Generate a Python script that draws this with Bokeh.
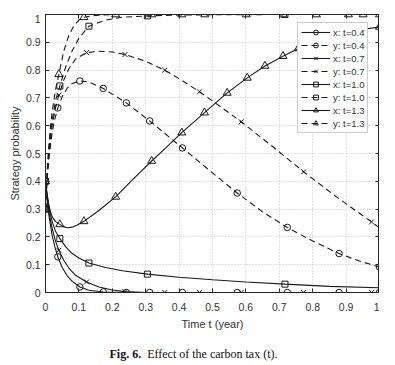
from bokeh.plotting import figure
from bokeh.models import Range1d, LinearAxis, Legend, LegendItem, FixedTicker, Div, Spacer
from bokeh.layouts import column, row
from bokeh.embed import file_html
from bokeh.resources import INLINE

# ---------------- data ----------------
ticks = [0, 0.1, 0.2, 0.3, 0.4, 0.5, 0.6, 0.7, 0.8, 0.9, 1]
tick_labels = ["0", "0.1", "0.2", "0.3", "0.4", "0.5", "0.6", "0.7", "0.8", "0.9", "1"]

# x: t=0.4 (solid, circle)
x04_t = [0, 0.005, 0.01, 0.015, 0.02, 0.028, 0.037, 0.05, 0.065, 0.08, 0.103, 0.13, 0.173, 0.242, 1.0]
x04_v = [0.4, 0.33, 0.28, 0.24, 0.205, 0.165, 0.128, 0.09, 0.06, 0.04, 0.02, 0.008, 0.002, 0.0, 0.0]
# y: t=0.4 (dashed, circle)
y04_t = [0, 0.005, 0.01, 0.015, 0.02, 0.027, 0.037, 0.05, 0.065, 0.08, 0.103, 0.13, 0.173, 0.242,
         0.312, 0.41, 0.49, 0.574, 0.65, 0.724, 0.8, 0.879, 0.94, 1.0]
y04_v = [0.3, 0.41, 0.48, 0.53, 0.575, 0.62, 0.664, 0.705, 0.735, 0.752, 0.761, 0.757, 0.734, 0.682,
         0.617, 0.52, 0.44, 0.358, 0.29, 0.234, 0.185, 0.14, 0.113, 0.092]
m04_t = [0, 0.037, 0.103, 0.173, 0.242, 0.312, 0.41, 0.574, 0.724, 0.879, 1.0]
m04_x = [0.4, 0.128, 0.02, 0.002, 0, 0, 0, 0, 0, 0, 0]
m04_y = [0.3, 0.664, 0.761, 0.734, 0.682, 0.617, 0.52, 0.358, 0.234, 0.14, 0.092]

# x: t=0.7 (solid, x)
x07_t = [0, 0.005, 0.01, 0.015, 0.02, 0.03, 0.04, 0.055, 0.07, 0.09, 0.123, 0.16, 0.2, 0.238, 0.3, 1.0]
x07_v = [0.4, 0.34, 0.295, 0.26, 0.23, 0.185, 0.152, 0.115, 0.088, 0.062, 0.038, 0.02, 0.009, 0.003, 0.0, 0.0]
# y: t=0.7 (dashed, x)
y07_t = [0, 0.005, 0.01, 0.015, 0.02, 0.03, 0.04, 0.055, 0.07, 0.09, 0.123, 0.16, 0.2, 0.238, 0.3,
         0.357, 0.41, 0.461, 0.52, 0.586, 0.68, 0.773, 0.87, 0.976, 1.0]
y07_v = [0.3, 0.42, 0.49, 0.55, 0.6, 0.665, 0.71, 0.765, 0.805, 0.84, 0.863, 0.868, 0.865, 0.856, 0.832,
         0.80, 0.762, 0.722, 0.672, 0.614, 0.525, 0.434, 0.345, 0.254, 0.232]
m07_t = [0, 0.04, 0.123, 0.238, 0.357, 0.461, 0.586, 0.773, 0.976]
m07_x = [0.4, 0.152, 0.038, 0.003, 0, 0, 0, 0, 0]
m07_y = [0.3, 0.71, 0.863, 0.856, 0.80, 0.722, 0.614, 0.434, 0.254]

# x: t=1.0 (solid, square)
x10_t = [0, 0.005, 0.01, 0.015, 0.02, 0.03, 0.043, 0.06, 0.08, 0.1, 0.13, 0.18, 0.23, 0.305, 0.4, 0.5,
         0.6, 0.717, 0.85, 1.0]
x10_v = [0.4, 0.35, 0.31, 0.28, 0.255, 0.22, 0.194, 0.165, 0.14, 0.124, 0.106, 0.09, 0.078, 0.066, 0.055,
         0.046, 0.038, 0.030, 0.022, 0.017]
# y: t=1.0 (dashed, square)
y10_t = [0, 0.005, 0.01, 0.015, 0.02, 0.03, 0.043, 0.06, 0.08, 0.1, 0.13, 0.18, 0.23, 0.305, 0.4, 0.5, 0.717, 1.0]
y10_v = [0.3, 0.43, 0.51, 0.57, 0.62, 0.69, 0.743, 0.81, 0.87, 0.915, 0.958, 0.98, 0.99, 0.995, 0.998,
         0.999, 1.0, 1.0]
m10_t = [0, 0.043, 0.13, 0.305, 0.717]
m10_x = [0.4, 0.194, 0.106, 0.066, 0.030]
m10_y = [0.3, 0.743, 0.958, 0.995, 1.0]

# x: t=1.3 (solid, triangle)
x13_t = [0, 0.005, 0.01, 0.015, 0.02, 0.03, 0.043, 0.055, 0.065, 0.08, 0.095, 0.115, 0.16, 0.21, 0.26,
         0.318, 0.36, 0.408, 0.476, 0.544, 0.604, 0.657, 0.711, 0.757, 0.81, 0.86, 0.907, 0.951, 1.0]
x13_v = [0.4, 0.35, 0.315, 0.29, 0.272, 0.255, 0.245, 0.236, 0.233, 0.235, 0.243, 0.256, 0.295, 0.344,
         0.405, 0.473, 0.52, 0.575, 0.647, 0.718, 0.772, 0.815, 0.85, 0.878, 0.903, 0.922, 0.937, 0.947, 0.955]
m13x_t = [0, 0.043, 0.115, 0.21, 0.318, 0.408, 0.476, 0.544, 0.604, 0.657, 0.711, 0.757, 0.81, 0.86,
          0.907, 0.951, 1.0]
m13x_v = [0.4, 0.245, 0.256, 0.344, 0.473, 0.575, 0.647, 0.718, 0.772, 0.815, 0.85, 0.878, 0.903, 0.922,
          0.937, 0.947, 0.955]
# y: t=1.3 (dashed, triangle)
y13_t = [0, 0.005, 0.01, 0.015, 0.02, 0.03, 0.04, 0.055, 0.07, 0.085, 0.1, 0.115, 0.15, 0.21, 1.0]
y13_v = [0.3, 0.44, 0.53, 0.6, 0.65, 0.73, 0.785, 0.87, 0.925, 0.96, 0.98, 0.99, 0.997, 1.0, 1.0]
m13y_t = [0, 0.04, 0.115, 0.21, 0.318, 0.408, 0.477, 0.601, 0.712, 0.811, 0.907, 0.951, 1.0]
m13y_v = [0.3, 0.785, 0.99, 1, 1, 1, 1, 1, 1, 1, 1, 1, 1]

legend_labels = ["x: t=0.4", "y: t=0.4", "x: t=0.7", "y: t=0.7",
                 "x: t=1.0", "y: t=1.0", "x: t=1.3", "y: t=1.3"]
caption_bold = "Fig. 6."
caption_text = "Effect of the carbon tax (t)."

# ---------------- figure ----------------
INK = "#1a1a1a"
AX = "#262626"
FONT = "Liberation Sans"

p = figure(frame_width=334, frame_height=278, output_backend="svg", toolbar_location=None,
           x_range=Range1d(0, 1), y_range=Range1d(0, 1),
           min_border_left=0, min_border_right=0, min_border_top=0, min_border_bottom=0,
           background_fill_color="white", border_fill_color="white")
p.outline_line_color = AX
p.outline_line_width = 1

for ax in (p.xaxis[0], p.yaxis[0]):
    ax.ticker = FixedTicker(ticks=ticks)
    ax.major_label_overrides = {t: l for t, l in zip(ticks, tick_labels)}
    ax.major_tick_in = 4
    ax.major_tick_out = 0
    ax.minor_tick_in = 0
    ax.minor_tick_out = 0
    ax.axis_line_color = AX
    ax.major_tick_line_color = AX
    ax.major_label_text_font = FONT
    ax.major_label_text_font_size = "10.5px"
    ax.major_label_text_color = "#333333"
    ax.axis_label_text_font = FONT
    ax.axis_label_text_font_size = "11px"
    ax.axis_label_text_font_style = "normal"
    ax.axis_label_text_color = "#333333"

p.xaxis.axis_label = "Time t (year)"
p.yaxis.axis_label = "Strategy probability"
p.xaxis.major_label_standoff = 10
p.xaxis.axis_label_standoff = 4
p.yaxis.major_label_standoff = 5
p.yaxis.axis_label_standoff = 2

for loc in ("right", "above"):
    a = LinearAxis(ticker=FixedTicker(ticks=ticks), major_tick_in=4, major_tick_out=0,
                   minor_tick_in=0, minor_tick_out=0, axis_line_color=AX,
                   major_tick_line_color=AX,
                   major_label_overrides={t: "" for t in ticks},
                   major_label_standoff=0)
    p.add_layout(a, loc)

p.xgrid.ticker = FixedTicker(ticks=ticks)
p.ygrid.ticker = FixedTicker(ticks=ticks)
p.grid.grid_line_color = "#c4c4c4"
p.grid.grid_line_dash = "1 2"
p.grid.grid_line_width = 1

DASH = "6 4"
LW = 1.1

series = [
    (x04_t, x04_v, m04_t, m04_x, "circle", "solid", 6.5),
    (y04_t, y04_v, m04_t, m04_y, "circle", DASH, 6.5),
    (x07_t, x07_v, m07_t, m07_x, "x", "solid", 7),
    (y07_t, y07_v, m07_t, m07_y, "x", DASH, 7),
    (x10_t, x10_v, m10_t, m10_x, "square", "solid", 6),
    (y10_t, y10_v, m10_t, m10_y, "square", DASH, 6),
    (x13_t, x13_v, m13x_t, m13x_v, "triangle", "solid", 8),
    (y13_t, y13_v, m13y_t, m13y_v, "triangle", DASH, 8),
]

items = []
for (ct, cv, mt, mv, mk, dash, sz), lab in zip(series, legend_labels):
    lr = p.line(ct, cv, line_color=INK, line_width=LW, line_dash=dash)
    sr = p.scatter(mt, mv, marker=mk, size=sz, line_color=INK, fill_color=None, line_width=1)
    items.append(LegendItem(label=lab, renderers=[lr, sr]))

legend = Legend(items=items, location=(252, 159))
legend.label_text_font = FONT
legend.label_text_font_size = "9.5px"
legend.label_text_color = "#333333"
legend.label_height = 12
legend.glyph_height = 12
legend.glyph_width = 29
legend.label_standoff = 3
legend.spacing = 1
legend.padding = 3
legend.margin = 0
legend.border_line_color = "#9a9a9a"
legend.border_line_width = 1
legend.background_fill_color = "white"
legend.background_fill_alpha = 1
p.add_layout(legend)

caption = Div(text="<b>" + caption_bold + "</b>&nbsp; " + caption_text,
              width=379, height=24, margin=(10, 0, 0, 0),
              styles={"text-align": "center", "font-family": "'Liberation Serif', serif",
                      "font-size": "12px", "line-height": "24px", "color": "#111111",
                      "padding-left": "8px"})

layout = column(Spacer(height=14), row(Spacer(width=5), p, spacing=0), caption, spacing=0)
open("out.html", "w").write(file_html(layout, INLINE))
